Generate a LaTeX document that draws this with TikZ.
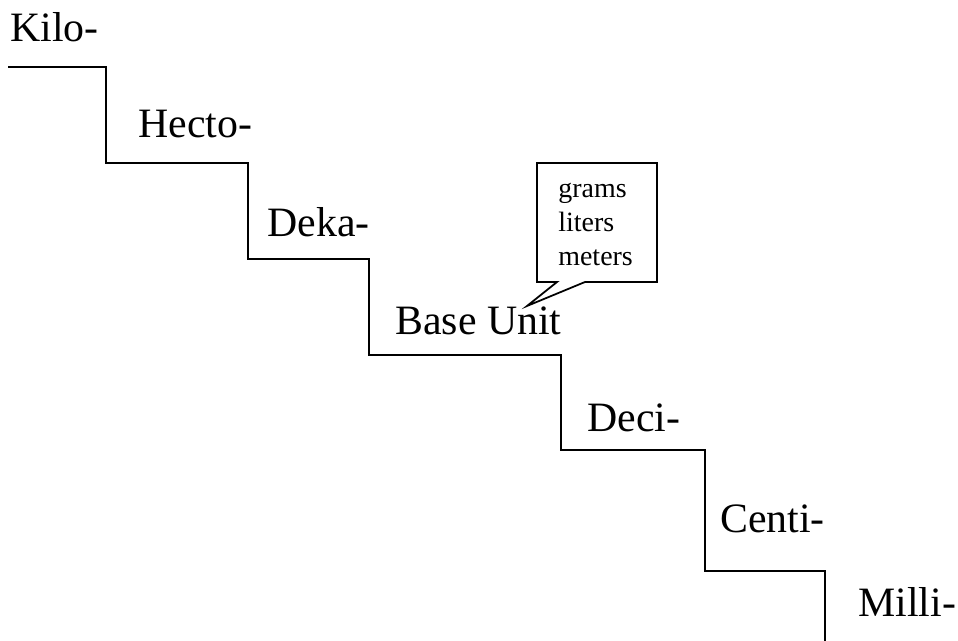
\documentclass[tikz,border=0pt]{standalone}
\usepackage{fontspec}
\setmainfont{Liberation Serif}
\usetikzlibrary{positioning}

\tikzset{
	prefixlabel/.style = {anchor = base west, inner sep = 0pt, font = \fontsize{23.8}{28}\selectfont},
	unitword/.style = {anchor = base west, inner sep = 0pt, font = \fontsize{15.9}{19}\selectfont},
}

\begin{document}
\begin{tikzpicture}[x = 0.02cm, y = -0.02cm]
\useasboundingbox (0,0) rectangle (958,641);
% the staircase
\draw [line width = 1.3pt]
	(8,67) -- (106,67) -- (106,163) -- (248,163) -- (248,259)
	-- (369,259) -- (369,355) -- (561,355) -- (561,450)
	-- (705,450) -- (705,571) -- (825,571) -- (825,641);
\foreach \name/\x/\y/\txt in {kilo/10/42/Kilo-, hecto/138/138/Hecto-,
		deka/267/237/Deka-, base/395/335/Base Unit, deci/587/432/Deci-,
		centi/720/533/Centi-, milli/858/617/Milli-}
	\node [prefixlabel] (\name) at (\x,\y) {\txt};
% callout
\coordinate (tip) at (527,306);
\draw [line width = 1pt]
	(557,282) -- (537,282) -- (537,163) -- (657,163) -- (657,282) -- (585,282) -- (tip) -- cycle;
\foreach \name/\y/\txt in {grams/198/grams, liters/232/liters, meters/266/meters}
	\node [unitword] (\name) at (558,\y) {\txt};
\end{tikzpicture}
\end{document}
